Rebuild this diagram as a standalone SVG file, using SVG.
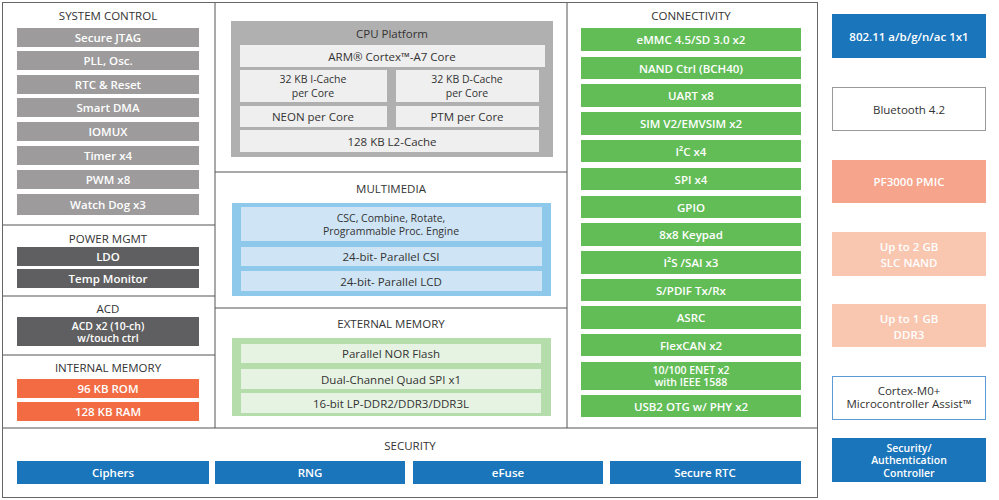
<svg xmlns="http://www.w3.org/2000/svg" width="999" height="500" viewBox="0 0 999 500">
<style>
text{font-family:"Open Sans","Liberation Sans",sans-serif;font-size:11.5px;text-anchor:middle;dominant-baseline:central}
.t{fill:#333;font-size:11.5px}
.w{fill:#fff;font-weight:600}
.d{fill:#333}
.s{font-size:10.5px}
.g{fill:#9d9b9c}.dk{fill:#5f5f61}.or{fill:#f26b43}.gr{fill:#62bd57}.bl{fill:#1a75bb}
.lt{fill:#efefef}.lb{fill:#cfe5f5}.lg{fill:#e6f2e2}
line{stroke:#555;stroke-width:1}
</style>
<rect width="999" height="500" fill="#fff"/>
<g id="frame" fill="none" stroke="#666">
<rect x="2.5" y="2.5" width="815" height="495"/>
<line x1="215" y1="3" x2="215" y2="428"/><line x1="567" y1="3" x2="567" y2="428"/>
<line x1="3" y1="428" x2="817" y2="428"/>
<line x1="3" y1="225" x2="215" y2="225"/><line x1="3" y1="296" x2="215" y2="296"/><line x1="3" y1="355" x2="215" y2="355"/>
<line x1="215" y1="172" x2="567" y2="172"/><line x1="215" y1="308" x2="567" y2="308"/>
</g>
<g id="system-control">
<text class="t" x="108" y="15">SYSTEM CONTROL</text>
<rect class="g" x="17" y="28" width="182" height="19"/><text class="w" x="108" y="37.5">Secure JTAG</text>
<rect class="g" x="17" y="51" width="182" height="19"/><text class="w" x="108" y="60.5">PLL, Osc.</text>
<rect class="g" x="17" y="75" width="182" height="19"/><text class="w" x="108" y="84.5">RTC &amp; Reset</text>
<rect class="g" x="17" y="98" width="182" height="19"/><text class="w" x="108" y="107.5">Smart DMA</text>
<rect class="g" x="17" y="122" width="182" height="19"/><text class="w" x="108" y="131.5">IOMUX</text>
<rect class="g" x="17" y="146" width="182" height="19"/><text class="w" x="108" y="155.5">Timer x4</text>
<rect class="g" x="17" y="170" width="182" height="19"/><text class="w" x="108" y="179.5">PWM x8</text>
<rect class="g" x="17" y="194" width="182" height="21"/><text class="w" x="108" y="204.5">Watch Dog x3</text>
</g>
<g id="power-mgmt">
<text class="t" x="108" y="238">POWER MGMT</text>
<rect class="dk" x="17" y="247" width="182" height="19"/><text class="w" x="108" y="256.5">LDO</text>
<rect class="dk" x="17" y="269" width="182" height="19"/><text class="w" x="108" y="278.5">Temp Monitor</text>
</g>
<g id="acd">
<text class="t" x="108" y="308">ACD</text>
<rect class="dk" x="17" y="317" width="182" height="29"/><text class="w s" x="108" y="325.5">ACD x2 (10-ch)</text><text class="w s" x="108" y="338">w/touch ctrl</text>
</g>
<g id="internal-memory">
<text class="t" x="108" y="367">INTERNAL MEMORY</text>
<rect class="or" x="17" y="379" width="182" height="19"/><text class="w" x="108" y="388.5">96 KB ROM</text>
<rect class="or" x="17" y="402" width="182" height="19"/><text class="w" x="108" y="411.5">128 KB RAM</text>
</g>
<g id="cpu-platform">
<rect x="231" y="21" width="322" height="136" fill="#b1b0b0"/>
<text class="d" x="392" y="33">CPU Platform</text>
<rect class="lt" x="240" y="45" width="305" height="22"/><text class="d" x="392" y="56">ARM® Cortex™-A7 Core</text>
<rect class="lt" x="240" y="70" width="147" height="32"/><text class="d s" x="313" y="79">32 KB I-Cache</text><text class="d s" x="313" y="92.5">per Core</text>
<rect class="lt" x="396" y="70" width="143" height="32"/><text class="d s" x="467" y="79">32 KB D-Cache</text><text class="d s" x="467" y="92.5">per Core</text>
<rect class="lt" x="240" y="106" width="147" height="21"/><text class="d" x="313" y="116.5">NEON per Core</text>
<rect class="lt" x="396" y="106" width="143" height="21"/><text class="d" x="467" y="116.5">PTM per Core</text>
<rect class="lt" x="240" y="130" width="299" height="22"/><text class="d" x="392" y="141">128 KB L2-Cache</text>
</g>
<g id="multimedia">
<text class="t" x="391" y="188">MULTIMEDIA</text>
<rect x="232" y="203" width="319" height="93" fill="#8ec8ea"/>
<rect class="lb" x="241" y="207" width="301" height="34"/><text class="d s" x="391" y="217.5">CSC, Combine, Rotate,</text><text class="d s" x="391" y="231">Programmable Proc. Engine</text>
<rect class="lb" x="241" y="247" width="301" height="19"/><text class="d" x="391" y="256.5">24-bit- Parallel CSI</text>
<rect class="lb" x="241" y="271" width="301" height="20"/><text class="d" x="391" y="281">24-bit- Parallel LCD</text>
</g>
<g id="external-memory">
<text class="t" x="391" y="323">EXTERNAL MEMORY</text>
<rect x="232" y="338" width="319" height="78" fill="#b5dcab"/>
<rect class="lg" x="241" y="344" width="300" height="19"/><text class="d" x="391" y="353.5">Parallel NOR Flash</text>
<rect class="lg" x="241" y="369" width="300" height="20"/><text class="d" x="391" y="379">Dual-Channel Quad SPI  x1</text>
<rect class="lg" x="241" y="393" width="300" height="20"/><text class="d" x="391" y="403">16-bit LP-DDR2/DDR3/DDR3L</text>
</g>
<g id="connectivity">
<text class="t" x="691" y="15">CONNECTIVITY</text>
<rect class="gr" x="581" y="28" width="220" height="23"/><text class="w" x="691" y="39.5">eMMC 4.5/SD 3.0 x2</text>
<rect class="gr" x="581" y="57" width="220" height="22"/><text class="w" x="691" y="68">NAND Ctrl (BCH40)</text>
<rect class="gr" x="581" y="84" width="220" height="23"/><text class="w" x="691" y="95.5">UART x8</text>
<rect class="gr" x="581" y="112" width="220" height="23"/><text class="w" x="691" y="123.5">SIM V2/EMVSIM x2</text>
<rect class="gr" x="581" y="140" width="220" height="22"/><text class="w" x="691" y="151">I²C x4</text>
<rect class="gr" x="581" y="168" width="220" height="22"/><text class="w" x="691" y="179">SPI x4</text>
<rect class="gr" x="581" y="196" width="220" height="22"/><text class="w" x="691" y="207">GPIO</text>
<rect class="gr" x="581" y="223" width="220" height="23"/><text class="w" x="691" y="234.5">8x8 Keypad</text>
<rect class="gr" x="581" y="251" width="220" height="23"/><text class="w" x="691" y="262.5">I²S /SAI x3</text>
<rect class="gr" x="581" y="279" width="220" height="22"/><text class="w" x="691" y="290">S/PDIF Tx/Rx</text>
<rect class="gr" x="581" y="306" width="220" height="23"/><text class="w" x="691" y="317.5">ASRC</text>
<rect class="gr" x="581" y="334" width="220" height="22"/><text class="w" x="691" y="345">FlexCAN x2</text>
<rect class="gr" x="581" y="362" width="220" height="28"/><text class="w s" x="691" y="369.5">10/100 ENET x2</text><text class="w s" x="691" y="382">with IEEE 1588</text>
<rect class="gr" x="581" y="395" width="220" height="22"/><text class="w" x="691" y="406">USB2 OTG w/ PHY x2</text>
</g>
<g id="security">
<text class="t" x="410" y="445">SECURITY</text>
<rect class="bl" x="17" y="461" width="192" height="23"/><text class="w" x="113" y="472.5">Ciphers</text>
<rect class="bl" x="215" y="461" width="190" height="23"/><text class="w" x="310" y="472.5">RNG</text>
<rect class="bl" x="413" y="461" width="190" height="23"/><text class="w" x="508" y="472.5">eFuse</text>
<rect class="bl" x="610" y="461" width="191" height="23"/><text class="w" x="705" y="472.5">Secure RTC</text>
</g>
<g id="wifi"><rect class="bl" x="832" y="14" width="154" height="44"/><text class="w" x="909" y="36">802.11 a/b/g/n/ac 1x1</text></g>
<g id="bluetooth"><rect x="832.5" y="87.5" width="153" height="43" fill="#fff" stroke="#999"/><text class="d" x="909" y="109">Bluetooth 4.2</text></g>
<g id="pmic"><rect x="832" y="160" width="154" height="43" fill="#f6a48b"/><text class="w" x="909" y="181.5">PF3000 PMIC</text></g>
<g id="nand"><rect x="832" y="232" width="154" height="44" fill="#f9c6b0"/><text class="w" x="909" y="246">Up to 2 GB</text><text class="w" x="909" y="262">SLC NAND</text></g>
<g id="ddr3"><rect x="832" y="304" width="154" height="43" fill="#f9c6b0"/><text class="w" x="909" y="318">Up to 1 GB</text><text class="w" x="909" y="334">DDR3</text></g>
<g id="m0"><rect x="832.5" y="376.5" width="153" height="43" fill="#fff" stroke="#5b9bd5"/><text class="d" x="909" y="390">Cortex-M0+</text><text class="d" x="909" y="403">Microcontroller Assist™</text></g>
<g id="sec-ctrl"><rect class="bl" x="832" y="438" width="154" height="44" fill="#1a75bb"/><text class="w s" x="909" y="447.5">Security/</text><text class="w s" x="909" y="460">Authentication</text><text class="w s" x="909" y="472.5">Controller</text></g>
<g id="connectors"/>
</svg>
